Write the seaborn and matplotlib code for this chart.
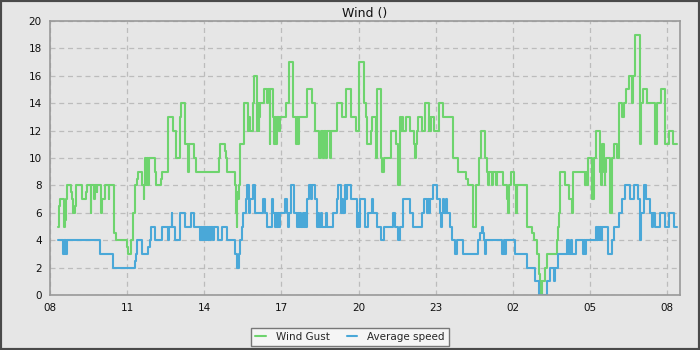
import matplotlib
matplotlib.use("Agg")
import matplotlib.pyplot as plt
from matplotlib.patches import Rectangle
from matplotlib.ticker import MultipleLocator
import seaborn as sns
import pandas as pd

# ---- data (hours since 08:00, value holds until next change) ----
gust_t = [0.32, 0.35, 0.40, 0.53, 0.58, 0.62, 0.66, 0.80, 0.86, 0.90, 0.97, 1.02, 1.26, 1.40, 1.44,
          1.58, 1.61, 1.72, 1.76, 1.81, 1.84, 1.98, 2.02, 2.12, 2.28, 2.31, 2.47, 2.50, 2.56, 2.98,
          3.02, 3.15, 3.24, 3.30, 3.38, 3.42, 3.58, 3.64, 3.67, 3.70, 3.74, 3.78, 3.82, 3.86, 4.10,
          4.13, 4.31, 4.34, 4.60, 4.77, 4.90, 5.06, 5.10, 5.25, 5.37, 5.42, 5.60, 5.66, 6.59, 6.63,
          6.80, 6.84, 6.90, 7.20, 7.24, 7.26, 7.28, 7.32, 7.36, 7.40, 7.55, 7.69, 7.74, 7.78, 7.88,
          7.93, 8.06, 8.09, 8.11, 8.14, 8.17, 8.31, 8.42, 8.46, 8.54, 8.57, 8.66, 8.72, 8.75, 8.78,
          8.82, 8.90, 8.95, 9.17, 9.30, 9.46, 9.56, 9.60, 9.64, 9.68, 9.98, 10.18, 10.31, 10.48, 10.53,
          10.62, 10.66, 10.74, 10.78, 10.88, 10.92, 11.02, 11.15, 11.34, 11.51, 11.69, 11.90, 12.03, 12.21, 12.29,
          12.32, 12.47, 12.53, 12.66, 12.71, 12.88, 12.93, 12.97, 13.28, 13.46, 13.52, 13.55, 13.62, 13.66, 13.69,
          13.72, 13.85, 14.00, 14.16, 14.20, 14.24, 14.29, 14.33, 14.46, 14.59, 14.72, 14.75, 14.78, 14.82, 14.95,
          15.11, 15.28, 15.66, 15.85, 16.18, 16.24, 16.44, 16.55, 16.70, 16.77, 16.92, 16.99, 17.02, 17.06, 17.18,
          17.22, 17.33, 17.37, 17.61, 17.77, 17.83, 17.86, 17.93, 18.06, 18.12, 18.14, 18.16, 18.18, 18.55, 18.74,
          18.81, 18.94, 19.02, 19.05, 19.07, 19.09, 19.11, 19.13, 19.26, 19.33, 19.71, 19.74, 19.78, 19.84, 20.04,
          20.17, 20.30, 20.33, 20.82, 20.86, 20.88, 20.91, 21.08, 21.14, 21.16, 21.25, 21.40, 21.44, 21.47, 21.54,
          21.57, 21.60, 21.63, 21.79, 21.86, 21.92, 22.05, 22.12, 22.25, 22.31, 22.41, 22.50, 22.63, 22.69, 22.76,
          22.93, 22.98, 23.06, 23.22, 23.54, 23.61, 23.76, 23.93, 24.06, 24.23, 24.38]
gust_v = [5, 6.5, 7, 5, 5.5, 7, 8, 7.5, 7, 6, 6.5, 8, 7, 7.5, 8,
          6, 8, 7, 8, 7.5, 8, 6, 7, 8, 7, 8, 5, 4.5, 4, 3.5,
          3, 4, 6, 8, 8.5, 9, 8, 7, 8, 10, 8, 10, 8, 10, 9,
          8, 8.5, 9, 13, 12, 10, 13, 14, 11, 9, 11, 10, 9, 10, 11,
          10.5, 10, 9, 8, 6, 5, 7.5, 7, 8, 11, 14, 12, 13, 12, 14,
          16, 12, 14, 12, 13, 14, 15, 14, 15, 11, 15, 13, 11, 13, 11,
          13, 12, 13, 14, 17, 13, 11, 13, 11, 13, 15, 14, 12, 10, 12,
          10, 12, 10, 12, 10, 12, 12, 14, 13, 15, 13, 12, 17, 14, 13,
          11, 12, 13, 10, 15, 10, 9, 10, 12, 11, 10, 8, 13, 12, 13,
          12, 13, 12, 11, 10, 11, 12, 13, 12, 14, 12, 13, 12, 13, 12,
          14, 13, 10, 9, 8.5, 8, 5, 8, 10, 12, 10, 9, 8, 9, 8,
          9, 8, 9, 8, 7, 6, 8, 9, 8, 6, 8, 6, 8, 5, 4.5,
          4, 3, 1.5, 1, 0, 1, 0, 1, 2, 3, 4, 5, 6, 9, 8,
          7, 6, 9, 8, 9, 8, 10, 7, 9, 10, 12, 9, 8, 11, 9,
          8, 9, 10, 6, 10, 11, 10, 14, 13, 14, 15, 16, 14, 16, 19,
          11, 14, 15, 14, 11, 14, 15, 11, 12, 11, 11]

avg_t = [0.32, 0.52, 0.55, 0.57, 0.60, 0.62, 0.65, 1.95, 2.44, 3.31, 3.35, 3.40, 3.57, 3.83, 3.88,
         3.93, 4.09, 4.35, 4.58, 4.62, 4.73, 4.76, 4.87, 5.07, 5.25, 5.50, 5.60, 5.84, 5.87, 5.91,
         5.95, 5.99, 6.04, 6.08, 6.12, 6.16, 6.20, 6.24, 6.28, 6.32, 6.36, 6.55, 6.68, 6.87, 7.20,
         7.27, 7.35, 7.40, 7.47, 7.52, 7.62, 7.67, 7.73, 7.76, 7.91, 7.97, 8.27, 8.36, 8.45, 8.62,
         8.69, 8.75, 8.78, 8.81, 8.85, 8.89, 8.93, 9.14, 9.20, 9.27, 9.31, 9.36, 9.49, 9.62, 9.66,
         9.70, 9.74, 9.78, 9.82, 9.86, 9.92, 9.96, 10.01, 10.09, 10.14, 10.18, 10.31, 10.40, 10.44, 10.48,
         10.52, 10.57, 10.74, 10.78, 11.02, 11.15, 11.21, 11.31, 11.35, 11.38, 11.47, 11.52, 11.55, 11.69, 11.93,
         11.97, 12.00, 12.06, 12.25, 12.38, 12.51, 12.58, 12.71, 12.87, 12.97, 13.33, 13.42, 13.55, 13.61, 13.74,
         14.00, 14.11, 14.46, 14.55, 14.65, 14.69, 14.74, 14.78, 14.91, 15.04, 15.17, 15.22, 15.26, 15.30, 15.34,
         15.40, 15.45, 15.56, 15.65, 15.75, 15.82, 16.05, 16.66, 16.72, 16.80, 16.84, 16.88, 16.92, 16.97, 17.57,
         17.64, 17.70, 17.74, 18.09, 18.55, 18.87, 19.00, 19.33, 19.46, 19.59, 19.65, 19.74, 20.10, 20.13, 20.16,
         20.20, 20.26, 20.30, 20.47, 20.73, 20.77, 20.82, 20.86, 21.22, 21.26, 21.30, 21.34, 21.38, 21.42, 21.46,
         21.70, 21.86, 21.92, 22.12, 22.25, 22.38, 22.57, 22.70, 22.85, 22.93, 22.98, 23.09, 23.19, 23.35, 23.40,
         23.44, 23.54, 23.74, 23.93, 24.06, 24.25, 24.38]
avg_v = [4, 3, 4, 3, 4, 3, 4, 3, 2, 2.5, 3, 4, 3, 3.5, 4,
         5, 4, 5, 4, 5, 6, 5, 4, 6, 5, 6, 5, 4, 5, 4,
         5, 4, 5, 4, 5, 4, 5, 4, 5, 4, 5, 4, 5, 4, 3,
         2, 3, 4, 5, 6, 7, 8, 6, 7, 8, 6, 7, 6, 5, 7,
         6, 5, 6, 5, 6, 5, 6, 7, 6, 5, 6, 8, 6, 5, 6,
         5, 6, 5, 6, 5, 6, 5, 7, 8, 7, 8, 7, 5, 6, 5,
         6, 5, 6, 5, 6, 7, 8, 6, 7, 6, 8, 7, 8, 7, 5,
         6, 5, 7, 5, 6, 7, 6, 5, 4, 5, 6, 5, 4, 5, 7,
         6, 5, 6, 7, 6, 7, 6, 7, 8, 7, 6, 5, 6, 7, 6,
         7, 6, 5, 4, 3, 4, 3, 4, 4.5, 5, 4.5, 4, 3, 4, 3,
         4, 3, 4, 3, 2, 1, 0, 1, 2, 1, 2, 3, 4, 3, 4,
         3, 4, 3, 4, 3, 4, 3, 4, 5, 4, 5, 4, 5, 4, 5,
         3, 4, 5, 6, 7, 8, 7, 8, 7, 4, 6, 8, 7, 6, 5,
         6, 5, 6, 5, 6, 5, 5]

series_names = ["Wind Gust", "Average speed"]
tick_hours = [0, 3, 6, 9, 12, 15, 18, 21, 24]
tick_labels = ["08", "11", "14", "17", "20", "23", "02", "05", "08"]
title = "Wind ()"

df = pd.concat([
    pd.DataFrame({"hour": gust_t, "value": gust_v, "series": series_names[0]}),
    pd.DataFrame({"hour": avg_t, "value": avg_v, "series": series_names[1]}),
], ignore_index=True)

sns.set_style("white")
plt.rcParams["font.family"] = ["DejaVu Sans"]

bg = "#e6e6e6"
fig = plt.figure(figsize=(7, 3.5), dpi=100, facecolor=bg)
ax = fig.add_axes([50 / 700, 1 - 295 / 350, 630 / 700, 274 / 350])
ax.set_facecolor(bg)

palette = {series_names[0]: "#6ed46e", series_names[1]: "#4aa8d8"}
sns.lineplot(data=df, x="hour", y="value", hue="series", palette=palette,
             estimator=None, sort=False, drawstyle="steps-post", linewidth=1.5,
             ax=ax, legend=True)

ax.set_xlim(0, 24.5)
ax.set_ylim(0, 20)
ax.set_xticks(tick_hours)
ax.set_xticklabels(tick_labels)
ax.set_yticks(range(0, 21, 2))
ax.xaxis.set_minor_locator(MultipleLocator(1))
ax.yaxis.set_minor_locator(MultipleLocator(1))
ax.tick_params(axis="both", which="major", direction="out", length=4, width=1,
               color="#222222", labelsize=7.5, labelcolor="#111111", pad=2)
ax.tick_params(axis="both", which="minor", direction="out", length=3, width=1, color="#222222")
ax.grid(True, which="major", color="#bcbcbc", linestyle=(0, (4, 3)), linewidth=0.9)
ax.set_axisbelow(True)
for s in ax.spines.values():
    s.set_visible(True)
    s.set_color("#999999")
    s.set_linewidth(1.2)
ax.set_xlabel("")
ax.set_ylabel("")
ax.set_title(title, fontsize=9, color="#111111", pad=3)

handles, labels = ax.get_legend_handles_labels()
if ax.get_legend() is not None:
    ax.get_legend().remove()
leg = fig.legend(handles, labels, loc="center", bbox_to_anchor=(0.5, 1 - 337 / 350),
                 ncol=2, fontsize=7.5, frameon=True, fancybox=False, handlelength=1.0,
                 handletextpad=1.0, columnspacing=1.6, borderpad=0.4)
leg.get_frame().set_facecolor("#f5f5f5")
leg.get_frame().set_edgecolor("#777777")
leg.get_frame().set_linewidth(1.0)
leg.get_frame().set_alpha(1)

fig.patches.append(Rectangle((0, 0), 1, 1, transform=fig.transFigure, fill=False,
                             edgecolor="#4a4a4a", linewidth=3, zorder=10))

fig.savefig("out.png", dpi=100, facecolor=bg)
